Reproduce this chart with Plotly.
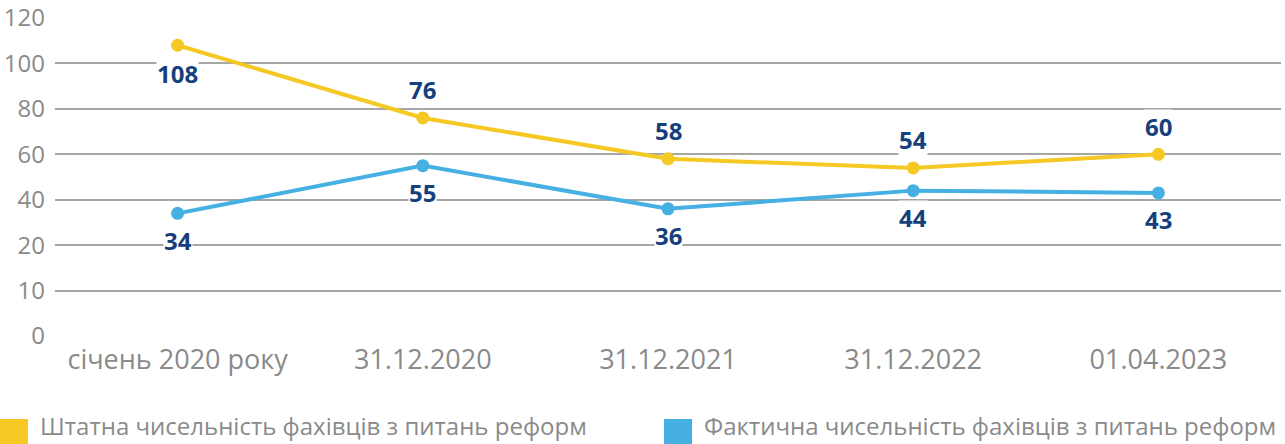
import numpy as np
import plotly.graph_objects as go

categories = ["січень 2020 року", "31.12.2020", "31.12.2021", "31.12.2022", "01.04.2023"]
staff_planned = [108, 76, 58, 54, 60]
staff_actual = [34, 55, 36, 44, 43]
series_names = ["Штатна чисельність фахівців з питань реформ",
                "Фактична чисельність фахівців з питань реформ"]
y_tick_labels = [0, 10, 20, 40, 60, 80, 100, 120]

YELLOW = "#F5C823"
BLUE = "#45B0E1"
NAVY = "#16407C"
GRAY_TXT = "#8a8a8a"
FONT = "Open Sans"

L, R, T, B = 55, 4, 18, 108
W, H = 1285, 444
PW, PH = W - L - R, H - T - B

# The value axis is drawn with evenly spaced ticks labelled 0,10,20,40,...,120
tick_pos = list(range(len(y_tick_labels)))
def to_axis(vals):
    return list(np.interp(vals, y_tick_labels, tick_pos))

fig = go.Figure()
fig.add_trace(go.Scatter(x=categories, y=to_axis(staff_planned), mode="lines+markers",
                         name=series_names[0], line=dict(color=YELLOW, width=4),
                         marker=dict(size=13, color=YELLOW), showlegend=False))
fig.add_trace(go.Scatter(x=categories, y=to_axis(staff_actual), mode="lines+markers",
                         name=series_names[1], line=dict(color=BLUE, width=4),
                         marker=dict(size=13, color=BLUE), showlegend=False))

annotations = []
planned_pos = ["below", "above", "above", "above", "above"]
for c, v, yv, p in zip(categories, staff_planned, to_axis(staff_planned), planned_pos):
    annotations.append(dict(x=c, y=yv, text=f"<b>{v}</b>", showarrow=False,
                            yshift=28 if p == "above" else -28,
                            font=dict(family=FONT, size=24, color=NAVY),
                            bgcolor="white", borderpad=0))
for c, v, yv in zip(categories, staff_actual, to_axis(staff_actual)):
    annotations.append(dict(x=c, y=yv, text=f"<b>{v}</b>", showarrow=False,
                            yshift=-27,
                            font=dict(family=FONT, size=24, color=NAVY),
                            bgcolor="white", borderpad=0))

# legend (drawn manually to match large square swatches)
shapes = []
legend_x_px = [0, 664]
def px_x(p):
    return (p - L) / PW
def px_y(p):
    return (H - B - p) / PH
for name, color, xpx in zip(series_names, [YELLOW, BLUE], legend_x_px):
    shapes.append(dict(type="rect", xref="paper", yref="paper",
                       x0=px_x(xpx), x1=px_x(xpx + 28),
                       y0=px_y(448), y1=px_y(419),
                       fillcolor=color, line=dict(width=0)))
    annotations.append(dict(xref="paper", yref="paper",
                            x=px_x(xpx + 38), y=px_y(444),
                            xanchor="left", yanchor="bottom", text=name, showarrow=False,
                            font=dict(family=FONT, size=24, color=GRAY_TXT)))

fig.update_layout(
    width=W, height=H,
    margin=dict(l=L, r=R, t=T, b=B, autoexpand=False),
    paper_bgcolor="white", plot_bgcolor="white",
    annotations=annotations, shapes=shapes,
    xaxis=dict(type="category", range=[-0.5, 4.5], showgrid=False, showline=False,
               ticks="", tickfont=dict(family=FONT, size=27, color=GRAY_TXT),
               ticklabelstandoff=5, zeroline=False, automargin=False),
    yaxis=dict(range=[0, 7], tickvals=tick_pos, ticktext=[str(t) for t in y_tick_labels],
               showgrid=True, gridcolor="#a6a6a6", gridwidth=1.5, zeroline=False,
               showline=False, ticks="", tickfont=dict(family=FONT, size=24, color=GRAY_TXT),
               ticklabelstandoff=9, automargin=False),
    showlegend=False,
)

fig.write_html("out.html", config={"displayModeBar": False},
               post_script="document.body.style.margin='0';document.body.style.overflow='hidden';")
